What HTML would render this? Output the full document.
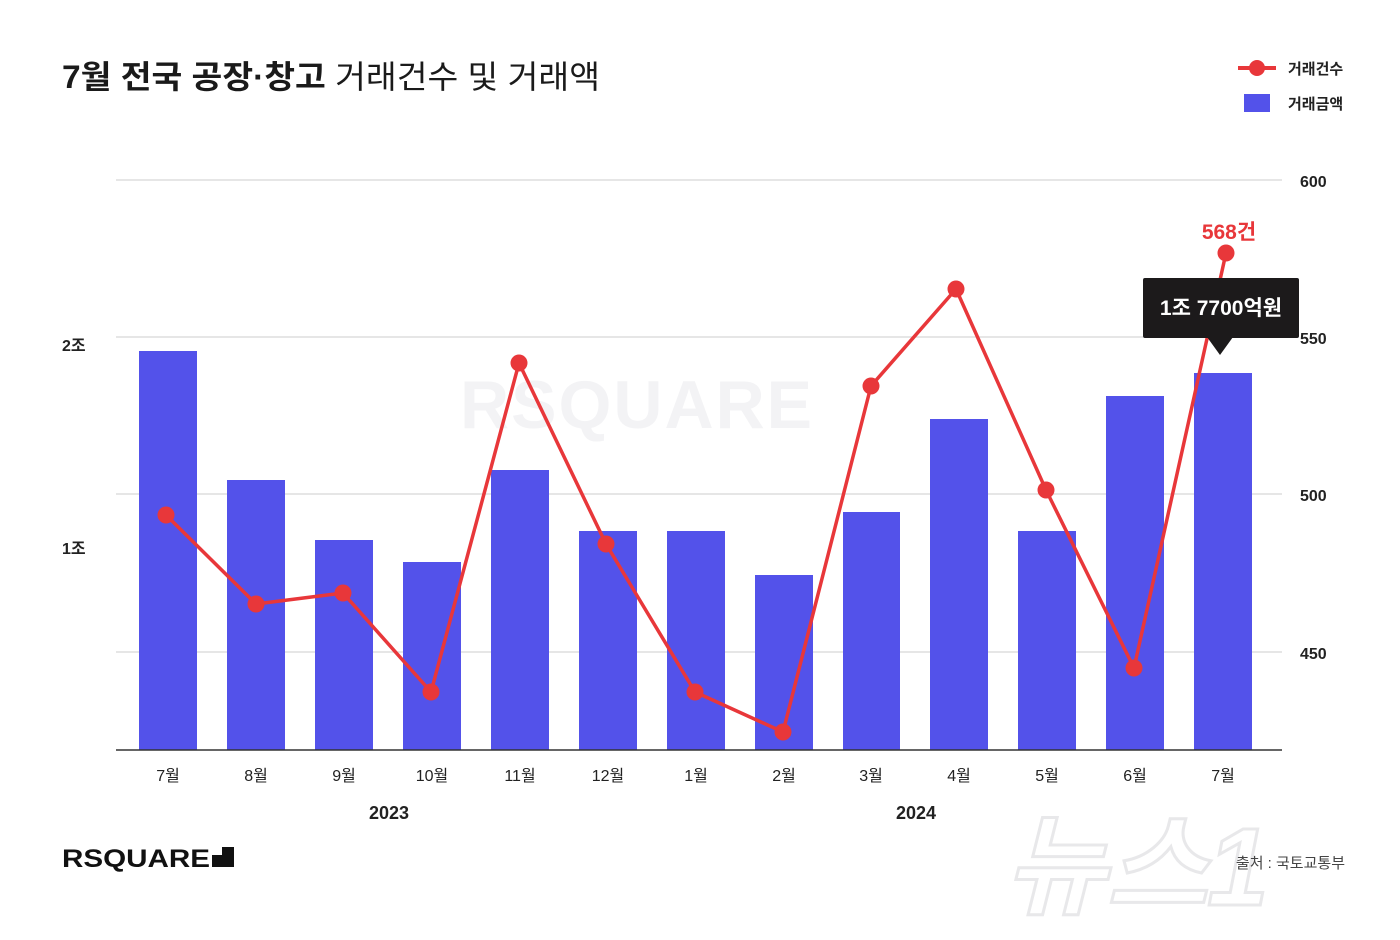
<!DOCTYPE html>
<html><head><meta charset="utf-8"><style>
body{margin:0;background:#fff;}
svg{display:block;font-family:"Liberation Sans","Noto Sans CJK KR",sans-serif;}
</style></head><body>
<svg width="1400" height="940" viewBox="0 0 1400 940" xmlns="http://www.w3.org/2000/svg">
<rect width="1400" height="940" fill="#fff"/>
<text x="62" y="88" font-size="32" fill="#1a1a1a" textLength="538" lengthAdjust="spacingAndGlyphs"><tspan font-weight="bold">7월 전국 공장·창고</tspan> 거래건수 및 거래액</text>
<line x1="1238" y1="68" x2="1276" y2="68" stroke="#e8373a" stroke-width="4"/>
<circle cx="1257" cy="68" r="8" fill="#e8373a"/>
<text x="1288" y="74" font-size="15" font-weight="bold" fill="#222">거래건수</text>
<rect x="1244" y="94" width="26" height="18" fill="#5352ea"/>
<text x="1288" y="109" font-size="15" font-weight="bold" fill="#222">거래금액</text>
<text x="460" y="428" font-size="68" font-weight="bold" fill="#f3f3f5" letter-spacing="2">RSQUARE</text>
<g stroke="#d6d6d6" stroke-width="1.2">
<line x1="116" y1="180" x2="1282" y2="180"/><line x1="116" y1="337" x2="1282" y2="337"/>
<line x1="116" y1="494" x2="1282" y2="494"/><line x1="116" y1="652" x2="1282" y2="652"/>
</g>
<g font-size="16" fill="#222" font-weight="bold">
<text x="1300" y="187">600</text><text x="1300" y="344">550</text><text x="1300" y="501">500</text><text x="1300" y="659">450</text>
<text x="62" y="351">2조</text><text x="62" y="554">1조</text>
</g>
<g fill="#5352ea">
<rect x="139" y="351" width="58" height="399"/><rect x="227" y="480" width="58" height="270"/>
<rect x="315" y="540" width="58" height="210"/><rect x="403" y="562" width="58" height="188"/>
<rect x="491" y="470" width="58" height="280"/><rect x="579" y="531" width="58" height="219"/>
<rect x="667" y="531" width="58" height="219"/><rect x="755" y="575" width="58" height="175"/>
<rect x="843" y="512" width="57" height="238"/><rect x="930" y="419" width="58" height="331"/>
<rect x="1018" y="531" width="58" height="219"/><rect x="1106" y="396" width="58" height="354"/>
<rect x="1194" y="373" width="58" height="377"/>
</g>
<line x1="116" y1="750" x2="1282" y2="750" stroke="#333" stroke-width="1.5"/>
<polyline fill="none" stroke="#e8373a" stroke-width="3.5" stroke-linejoin="round" points="166,515 256,604 343,593 431,692 519,363 606,544 695,692 783,732 871,386 956,289 1046,490 1134,668 1226,253"/>
<g fill="#e8373a">
<circle cx="166" cy="515" r="8.5"/><circle cx="256" cy="604" r="8.5"/><circle cx="343" cy="593" r="8.5"/>
<circle cx="431" cy="692" r="8.5"/><circle cx="519" cy="363" r="8.5"/><circle cx="606" cy="544" r="8.5"/>
<circle cx="695" cy="692" r="8.5"/><circle cx="783" cy="732" r="8.5"/><circle cx="871" cy="386" r="8.5"/>
<circle cx="956" cy="289" r="8.5"/><circle cx="1046" cy="490" r="8.5"/><circle cx="1134" cy="668" r="8.5"/>
<circle cx="1226" cy="253" r="8.5"/>
</g>
<text x="1229" y="239" font-size="21" font-weight="bold" fill="#e8373a" text-anchor="middle">568건</text>
<rect x="1143" y="278" width="156" height="60" rx="2" fill="#1c1a1b"/>
<polygon points="1207,337 1233,337 1220,355" fill="#1c1a1b"/>
<text x="1221" y="315" font-size="21" font-weight="bold" fill="#fff" text-anchor="middle">1조 7700억원</text>
<g font-size="16" fill="#222" text-anchor="middle">
<text x="168" y="781">7월</text><text x="256" y="781">8월</text><text x="344" y="781">9월</text>
<text x="432" y="781">10월</text><text x="520" y="781">11월</text><text x="608" y="781">12월</text>
<text x="696" y="781">1월</text><text x="784" y="781">2월</text><text x="871" y="781">3월</text>
<text x="959" y="781">4월</text><text x="1047" y="781">5월</text><text x="1135" y="781">6월</text>
<text x="1223" y="781">7월</text>
</g>
<text x="389" y="819" font-size="18" font-weight="bold" fill="#222" text-anchor="middle">2023</text>
<text x="916" y="819" font-size="18" font-weight="bold" fill="#222" text-anchor="middle">2024</text>
<text x="62" y="867" font-size="25" font-weight="bold" fill="#111" textLength="148" lengthAdjust="spacingAndGlyphs">RSQUARE</text>
<rect x="212" y="847" width="22" height="20" fill="#111"/>
<rect x="212" y="847" width="10" height="8" fill="#fff"/>
<text x="1005" y="905" font-size="110" font-weight="bold" fill="none" stroke="#e8e8ea" stroke-width="3" font-style="italic">뉴스1</text>
<text x="1345" y="868" font-size="15" fill="#444" text-anchor="end">출처 : 국토교통부</text>
</svg>
</body></html>
